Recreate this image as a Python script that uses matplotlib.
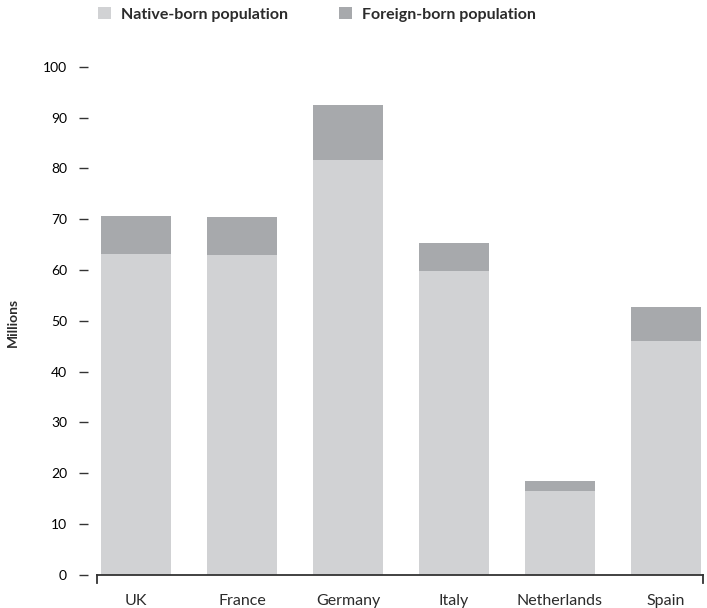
import matplotlib
matplotlib.use("Agg")
import matplotlib.pyplot as plt
from matplotlib.patches import Patch

countries = ["UK", "France", "Germany", "Italy", "Netherlands", "Spain"]
native = [63.2, 63.0, 81.7, 59.8, 16.6, 46.0]
foreign = [7.4, 7.4, 10.8, 5.5, 1.8, 6.7]
yticks = [0, 10, 20, 30, 40, 50, 60, 70, 80, 90, 100]

NATIVE_C = "#d1d2d4"
FOREIGN_C = "#a7a9ac"
TEXT_C = "#2b2b2b"

plt.rcParams['font.family'] = ['Lato', 'DejaVu Sans']

fig = plt.figure(figsize=(7.07, 6.08), dpi=100)
ax = fig.add_axes([0.137, 0.0543, 0.857, 0.836])

x = list(range(len(countries)))
ax.bar(x, native, width=0.66, color=NATIVE_C, zorder=2)
ax.bar(x, foreign, bottom=native, width=0.66, color=FOREIGN_C, zorder=2)

ax.set_xlim(-0.37, len(countries) - 0.65)
ax.set_ylim(0, 100)
ax.set_yticks(yticks)
ax.set_yticklabels([str(v) for v in yticks], fontsize=11.5, color=TEXT_C)
ax.set_xticks(x)
ax.set_xticklabels(countries, fontsize=11.5, color=TEXT_C)

for s in ["top", "right"]:
    ax.spines[s].set_visible(False)
ax.spines["left"].set_position(("outward", 6.5))
ax.spines["left"].set_visible(False)
ax.spines["bottom"].set_color("#333333")
ax.spines["bottom"].set_linewidth(1.3)

ax.tick_params(axis="y", length=6.5, width=1.0, color="#333333", pad=8.5)
ax.tick_params(axis="x", length=0, pad=14)

for xx in (0, 1):
    ax.plot([xx, xx], [0, -0.016], transform=ax.transAxes, color="#333333",
            lw=1.3, clip_on=False)

fig.text(13 / 707, 1 - 322 / 608, "Millions", rotation=90, ha="center", va="center",
         fontsize=10, fontweight="bold", color=TEXT_C)

handles = [Patch(facecolor=NATIVE_C, edgecolor="none", label="Native-born population"),
           Patch(facecolor=FOREIGN_C, edgecolor="none", label="Foreign-born population")]
leg = fig.legend(handles=handles, loc="upper left", bbox_to_anchor=(0.118, 1.012), ncol=2,
                 frameon=False, handlelength=0.8, handleheight=0.8, handletextpad=0.65,
                 columnspacing=3.2, prop={"size": 11.5, "weight": "bold"})
for t in leg.get_texts():
    t.set_color(TEXT_C)

fig.savefig("out.png", dpi=100)
